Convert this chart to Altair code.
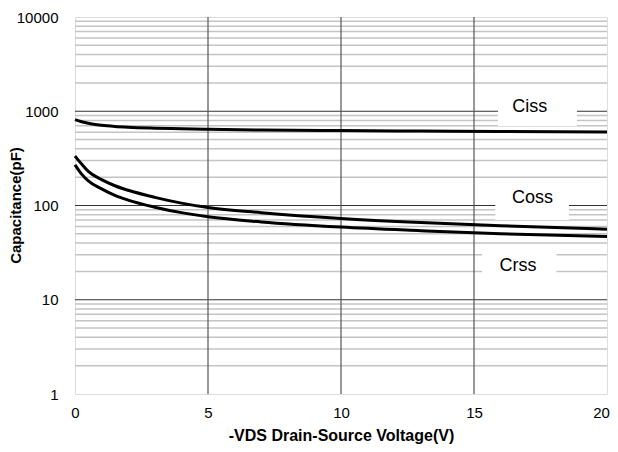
import altair as alt
import pandas as pd

# ---- data ----
volts = [0, 0.25, 0.5, 1, 1.5, 2, 3, 4, 5, 7, 10, 13, 16, 20]
ciss = [815, 775, 745, 710, 690, 677, 662, 652, 643, 633, 624, 617, 610, 602]
coss = [335, 275, 230, 188, 162, 145, 122, 106, 95, 84, 73, 66, 61, 56]
crss = [270, 215, 182, 150, 128, 114, 96, 84, 76, 67, 59, 54, 50, 47]

x_ticks = [0, 5, 10, 15, 20]
y_ticks = [1, 10, 100, 1000, 10000]
v_grid = [5, 10, 15]
major_grid = [10, 100, 1000]
minor_grid = [m * d for d in [1, 10, 100, 1000] for m in range(2, 10)]

labels = ["Ciss", "Coss", "Crss"]
label_x = [17.1, 17.2, 16.65]
label_y = [1109, 120, 22.7]
box_x0 = [15.9, 15.8, 15.3]
box_x1 = [18.87, 18.57, 18.1]
box_y0 = [697, 70, 13.3]
box_y1 = [1679, 173, 33.6]

# ---- tables ----
curves = pd.DataFrame(
    {
        "v": volts * 3,
        "c": ciss + coss + crss,
        "s": ["Ciss"] * len(volts) + ["Coss"] * len(volts) + ["Crss"] * len(volts),
    }
)
lab = pd.DataFrame(
    {"t": labels, "x": label_x, "y": label_y, "x0": box_x0, "x1": box_x1, "y0": box_y0, "y1": box_y1}
)
minor_df = pd.DataFrame({"c": minor_grid})
major_df = pd.DataFrame({"c": major_grid})
vgrid_df = pd.DataFrame({"v": v_grid})

FONT = "Liberation Sans"
xs = alt.Scale(domain=[0, 20], nice=False, zero=False)
ys = alt.Scale(type="log", domain=[1, 10000], nice=False)

x_axis = alt.Axis(
    values=x_ticks,
    title="-VDS Drain-Source Voltage(V)",
    grid=False,
    ticks=False,
    domain=False,
    labelFlush=False,
    labelPadding=11,
    labelOffset=alt.expr("datum.value == 20 ? -6 : 0"),
    labelFont=FONT,
    labelFontSize=15,
    labelColor="black",
    titleFont=FONT,
    titleFontSize=16,
    titleFontWeight="bold",
    titleColor="black",
    titleY=41,
    titleBaseline="middle",
)
y_axis = alt.Axis(
    values=y_ticks,
    format="d",
    title="Capacitance(pF)",
    grid=False,
    ticks=False,
    domain=False,
    labelFlush=False,
    labelPadding=17,
    labelFont=FONT,
    labelFontSize=15,
    labelColor="black",
    titleFont=FONT,
    titleFontSize=15,
    titleFontWeight="bold",
    titleColor="black",
    titleX=-60,
    titleY=188,
    titleBaseline="middle",
    titleAngle=270,
)

base_axes = (
    alt.Chart(curves)
    .mark_line(opacity=0)
    .encode(x=alt.X("v:Q", scale=xs, axis=x_axis), y=alt.Y("c:Q", scale=ys, axis=y_axis))
)

minor = alt.Chart(minor_df).mark_rule(color="#c4c4c4", strokeWidth=1.5).encode(
    y=alt.Y("c:Q", scale=ys)
)
major = alt.Chart(major_df).mark_rule(color="#333333", strokeWidth=1.2).encode(
    y=alt.Y("c:Q", scale=ys)
)
vgrid = alt.Chart(vgrid_df).mark_rule(color="#555555", strokeWidth=1.2).encode(
    x=alt.X("v:Q", scale=xs)
)

boxes = alt.Chart(lab).mark_rect(color="white").encode(
    x=alt.X("x0:Q", scale=xs), x2="x1:Q", y=alt.Y("y0:Q", scale=ys), y2="y1:Q"
)
texts = alt.Chart(lab).mark_text(font=FONT, fontSize=18, color="black", baseline="middle", align="center").encode(
    x=alt.X("x:Q", scale=xs), y=alt.Y("y:Q", scale=ys), text="t:N"
)

lines = alt.Chart(curves).mark_line(color="black", strokeWidth=3, interpolate="monotone").encode(
    x=alt.X("v:Q", scale=xs), y=alt.Y("c:Q", scale=ys), detail="s:N"
)

chart = (
    alt.layer(base_axes, minor, major, vgrid, boxes, texts, lines)
    .properties(
        width=532,
        height=377,
        autosize=alt.AutoSizeParams(type="none"),
        padding={"left": 67, "top": 9, "right": 3, "bottom": 50},
    )
    .configure_view(stroke="black", strokeWidth=2)
    .configure(background="white")
)

chart.save("out.html", embed_options={"renderer": "svg", "actions": False})
